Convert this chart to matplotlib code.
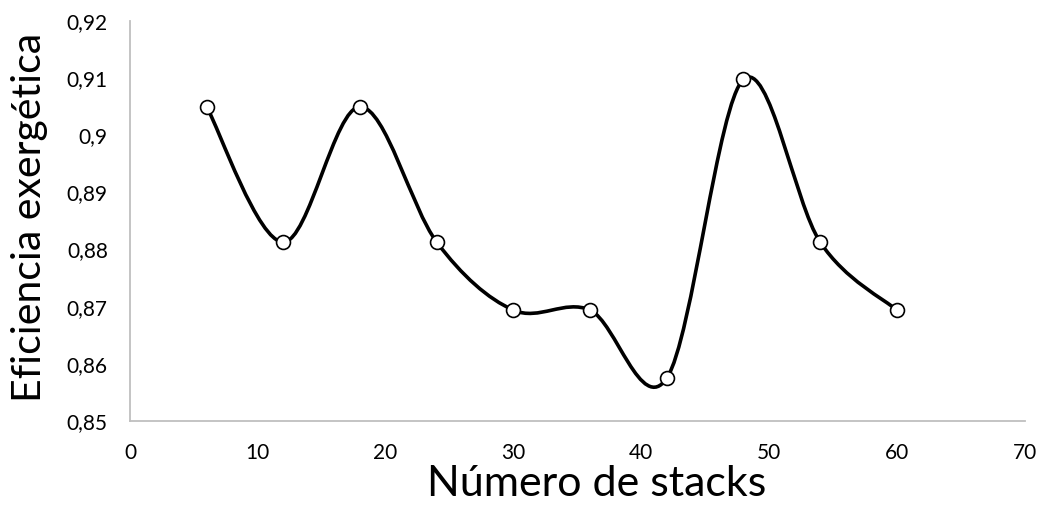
import numpy as np
import matplotlib
matplotlib.use('Agg')
import matplotlib.pyplot as plt
from matplotlib.path import Path
from matplotlib.patches import PathPatch

# Eficiencia exergética vs número de stacks
stacks = [6, 12, 18, 24, 30, 36, 42, 48, 54, 60]
eficiencia = [0.905, 0.8813, 0.905, 0.8813, 0.8694, 0.8694, 0.8575, 0.9098, 0.8813, 0.8694]

x_ticks = [0, 10, 20, 30, 40, 50, 60, 70]
y_ticks = [0.85, 0.86, 0.87, 0.88, 0.89, 0.90, 0.91, 0.92]


def smooth_path(xs, ys):
    # cubic bezier segments like a spreadsheet "smoothed line"
    pts = np.column_stack([xs, ys]).astype(float)
    n = len(pts)
    verts = [pts[0]]
    codes = [Path.MOVETO]
    for i in range(n - 1):
        p0 = pts[i - 1] if i > 0 else pts[i]
        p1 = pts[i]
        p2 = pts[i + 1]
        p3 = pts[i + 2] if i + 2 < n else pts[i + 1]
        c1 = p1 + (p2 - p0) / 6.0
        c2 = p2 - (p3 - p1) / 6.0
        verts += [c1, c2, p2]
        codes += [Path.CURVE4] * 3
    return Path(verts, codes)


plt.rcParams['font.family'] = ['Lato', 'DejaVu Sans']

fig = plt.figure(figsize=(10.44, 5.14), dpi=100)
ax = fig.add_axes([0.1245, 0.181, 0.857, 0.778])

ax.add_patch(PathPatch(smooth_path(stacks, eficiencia), facecolor='none',
                       edgecolor='black', lw=2.6, zorder=2))
ax.plot(stacks, eficiencia, linestyle='none', marker='o', markersize=10,
        markerfacecolor='white', markeredgecolor='black', markeredgewidth=1.2, zorder=3)

ax.set_xlim(0, 70)
ax.set_ylim(0.85, 0.92)
ax.set_xticks(x_ticks)
ax.set_yticks(y_ticks)
ax.set_yticklabels([f'{v:g}'.replace('.', ',') for v in y_ticks])
ax.tick_params(axis='both', length=0, labelsize=15, colors='#000000')
ax.tick_params(axis='y', pad=16)
ax.tick_params(axis='x', pad=16)

for side in ['top', 'right']:
    ax.spines[side].set_visible(False)
for side in ['left', 'bottom']:
    ax.spines[side].set_color('#bfbfbf')
    ax.spines[side].set_linewidth(1.3)

ax.set_xlabel('Número de stacks', fontsize=31)
ax.set_ylabel('Eficiencia exergética', fontsize=29.5)
ax.xaxis.set_label_coords(0.522, -0.11)
ax.yaxis.set_label_coords(-0.092, 0.51)

fig.savefig('out.png', dpi=100)
